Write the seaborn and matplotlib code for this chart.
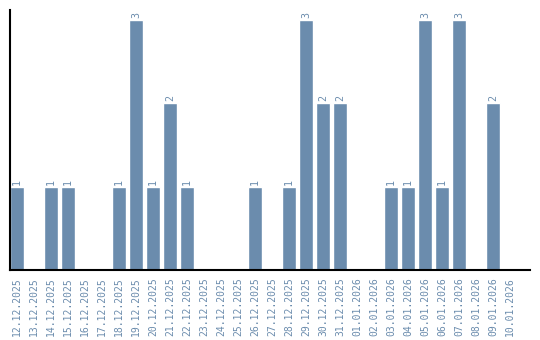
import matplotlib
matplotlib.use("Agg")
import matplotlib.pyplot as plt
import seaborn as sns
import pandas as pd

dates = ["12.12.2025", "13.12.2025", "14.12.2025", "15.12.2025", "16.12.2025",
         "17.12.2025", "18.12.2025", "19.12.2025", "20.12.2025", "21.12.2025",
         "22.12.2025", "23.12.2025", "24.12.2025", "25.12.2025", "26.12.2025",
         "27.12.2025", "28.12.2025", "29.12.2025", "30.12.2025", "31.12.2025",
         "01.01.2026", "02.01.2026", "03.01.2026", "04.01.2026", "05.01.2026",
         "06.01.2026", "07.01.2026", "08.01.2026", "09.01.2026", "10.01.2026"]
counts = [1, 0, 1, 1, 0, 0, 1, 3, 1, 2,
          1, 0, 0, 0, 1, 0, 1, 3, 2, 2,
          0, 0, 1, 1, 3, 1, 3, 0, 2, 0]

color = "#6b8cad"
df = pd.DataFrame({"date": dates, "count": counts})

sns.set_style("white")
fig = plt.figure(figsize=(5.4, 3.4), dpi=100)
ax = fig.add_axes([10/540, 70/340, 520/540, 260/340])
sns.barplot(data=df, x="date", y="count", color=color, width=14/17,
            saturation=1, ax=ax)

labels = [str(v) if v else "" for v in counts]
ax.bar_label(ax.containers[0], labels=labels, rotation=90, padding=1.5,
             color=color, fontsize=7.2, family="DejaVu Sans Mono")

ax.set_xlim(-0.41, 30.18)
ax.set_ylim(0, 3.12)
ax.set_xlabel("")
ax.set_ylabel("")
ax.set_yticks([])
ax.tick_params(axis="x", length=0, pad=5, labelcolor=color, labelsize=7.0)
for lab in ax.get_xticklabels():
    lab.set_rotation(90)
    lab.set_family("DejaVu Sans Mono")
    lab.set_va("top")
    lab.set_ha("center")
for s in ["top", "right"]:
    ax.spines[s].set_visible(False)
for s in ["left", "bottom"]:
    ax.spines[s].set_color("black")
    ax.spines[s].set_linewidth(1.5)

fig.savefig("out.png", dpi=100)
